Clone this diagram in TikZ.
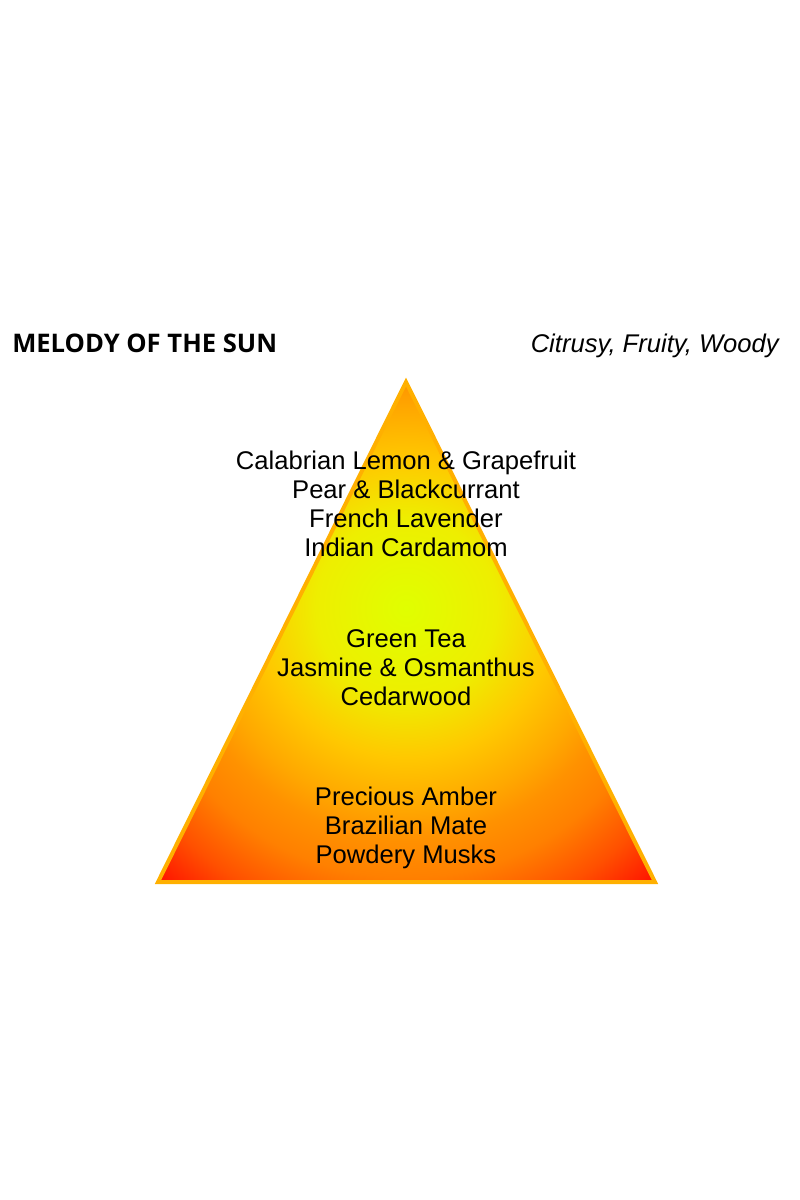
\documentclass[tikz,border=0pt]{standalone}
\usepackage{fontspec}
\setmainfont{Liberation Sans}
\newfontfamily\titlefont{Open Sans}
\definecolor{cLime}{HTML}{E0FF00}
\definecolor{cYel}{HTML}{EEEE00}
\definecolor{cGold}{HTML}{FFC800}
\definecolor{cAmb}{HTML}{FFA800}
\definecolor{cOrA}{HTML}{FF9200}
\definecolor{cOrB}{HTML}{FF8000}
\definecolor{cOrC}{HTML}{FF5000}
\definecolor{cRed}{HTML}{FF1000}
\definecolor{cEdge}{HTML}{FFB000}
\pgfdeclareradialshading{sunshade}{\pgfpoint{0bp}{0bp}}{%
  color(0bp)=(cLime);
  color(6.1bp)=(cYel);
  color(10.1bp)=(cGold);
  color(13.5bp)=(cAmb);
  color(15.5bp)=(cOrA);
  color(18.2bp)=(cOrB);
  color(21.6bp)=(cOrC);
  color(25bp)=(cRed);
  color(50bp)=(cRed)}
\begin{document}
\begin{tikzpicture}[x=0.75pt,y=-0.75pt,
  notes/.style={font=\fontsize{19.2}{21.75}\selectfont, align=center, anchor=base, inner sep=0pt},
  edge/.style={draw=cEdge, line width=3pt, line join=miter}]
\useasboundingbox[fill=white] (0,0) rectangle (800,1200);
\coordinate (apex) at (406,382);
\coordinate (bl) at (158,882);
\coordinate (br) at (655,882);
\begin{scope}
  \clip (apex) -- (br) -- (bl) -- cycle;
  \shade[shading=sunshade] (406,608) circle (370);
\end{scope}
\draw[edge] (apex) -- (br) -- (bl) -- cycle;
\node[anchor=base west, inner sep=0pt, font=\titlefont\bfseries\fontsize{19.2}{22}\selectfont] (title) at (12,352) {MELODY OF THE SUN};
\node[anchor=base east, inner sep=0pt, font=\itshape\fontsize{19.2}{22}\selectfont] (family) at (779,352) {Citrusy, Fruity, Woody};
\node[notes] (top) at (406,556) {Calabrian Lemon \& Grapefruit\\Pear \& Blackcurrant\\French Lavender\\Indian Cardamom};
\node[notes] (heart) at (406,705) {Green Tea\\Jasmine \& Osmanthus\\Cedarwood};
\node[notes] (base) at (406,863) {Precious Amber\\Brazilian Mate\\Powdery Musks};
\end{tikzpicture}
\end{document}
